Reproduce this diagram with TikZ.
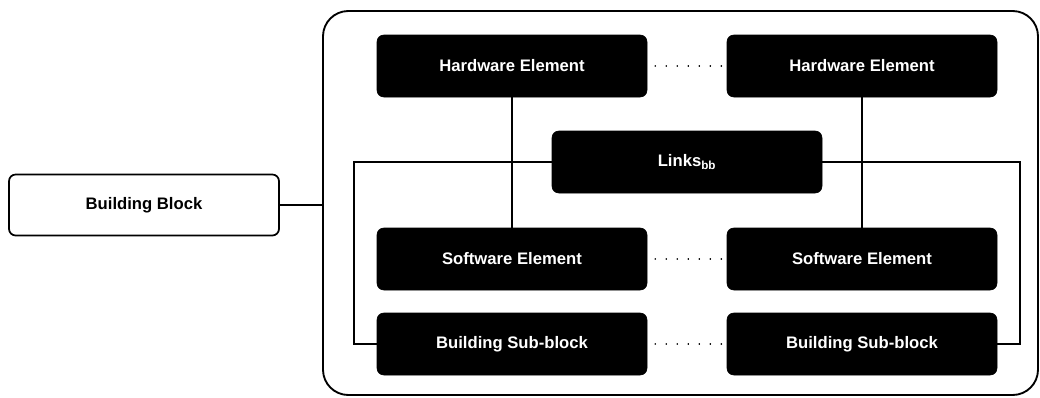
\documentclass[tikz,border=0pt]{standalone}
\usepackage{fontspec}
\setmainfont{Liberation Sans}
\tikzset{
  element/.style={draw=black, fill=black, text=white, rounded corners=5pt, minimum width=202.5pt, minimum height=46.5pt, inner sep=0pt, font=\fontsize{12.5pt}{15pt}\selectfont\bfseries},
  bblock/.style={draw=black, fill=white, line width=1.3pt, rounded corners=5pt, minimum width=202.5pt, minimum height=45.75pt, inner sep=0pt, font=\fontsize{12.5pt}{15pt}\selectfont\bfseries},
  link/.style={line width=1.1pt},
  more/.style={line width=1.3pt, dash pattern=on 0.01pt off 8.25pt, line cap=round}
}
\begin{document}
\begin{tikzpicture}[x=0.75pt, y=-0.75pt]
\useasboundingbox (0,0) rectangle (1040,397);
\draw[line width=1.4pt, rounded corners=19pt] (323,11) rectangle (1038,395);
\node[bblock] (bb) at (144,205) {Building Block};
\node[element] (hw1) at (512,66) {Hardware Element};
\node[element] (hw2) at (862,66) {Hardware Element};
\node[element] (links) at (687,162) {Links\textsubscript{bb}};
\node[element] (sw1) at (512,259) {Software Element};
\node[element] (sw2) at (862,259) {Software Element};
\node[element] (sb1) at (512,344) {Building Sub-block};
\node[element] (sb2) at (862,344) {Building Sub-block};
\coordinate (edge) at (323,205);
\coordinate (l) at (354,162);
\coordinate (r) at (1020,162);
\draw[link] (bb.east) -- (edge);
\draw[link] (hw1) -- (sw1);
\draw[link] (hw2) -- (sw2);
\draw[link] (links.west) -- (l) |- (sb1.west);
\draw[link] (links.east) -- (r) |- (sb2.east);
\draw[more] ([xshift=6pt]hw1.east) -- (hw2.west);
\draw[more] ([xshift=6pt]sw1.east) -- (sw2.west);
\draw[more] ([xshift=6pt]sb1.east) -- (sb2.west);
\end{tikzpicture}
\end{document}
